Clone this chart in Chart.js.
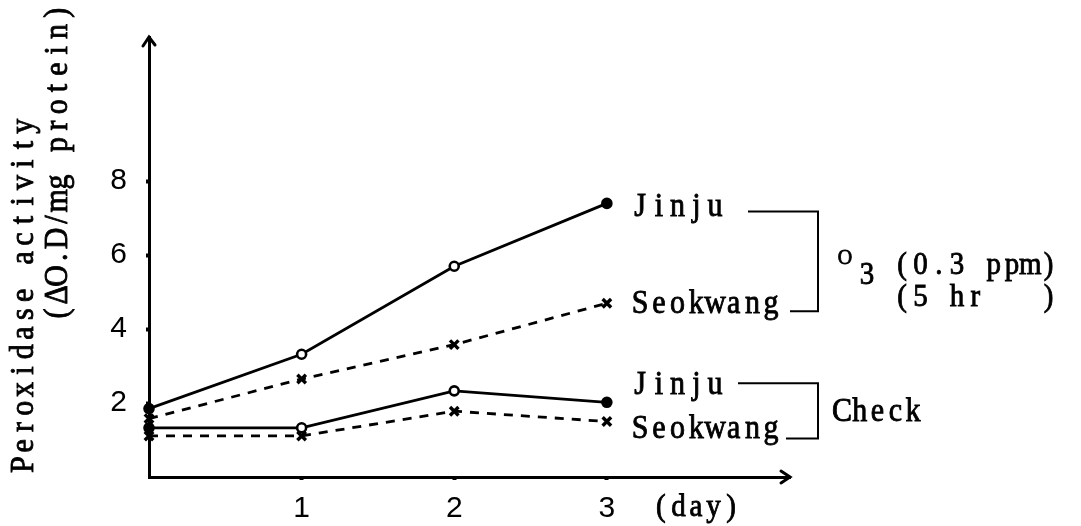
<!DOCTYPE html>
<html>
<head>
<meta charset="utf-8">
<script src="https://cdn.jsdelivr.net/npm/chart.js@4/dist/chart.umd.min.js"></script>
<style>
  html, body { margin: 0; padding: 0; background: #fff; }
  canvas { display: block; }
</style>
</head>
<body>
<canvas id="c" width="1081" height="526"></canvas>
<script>
// ---- data ----
const days = [0, 1, 2, 3];
const o3Jinju = [1.85, 3.32, 5.70, 7.40];
const o3Seokwang = [1.58, 2.65, 3.58, 4.70];
const checkJinju = [1.33, 1.33, 2.33, 2.02];
const checkSeokwang = [1.11, 1.11, 1.78, 1.50];
const yTicks = [2, 4, 6, 8];
const xTicks = [1, 2, 3];
const yTitleLines = ['Peroxidase activity', '(\u0394O.D/mg protein)'];
const xUnit = '(day)';
const varietyLabels = ['Jinju', 'Seokwang'];
const groupLabels = ['Check'];
const o3Lines = ['(0.3 ppm)', '(5 hr   )'];

const SERIF = '"Liberation Serif", "DejaVu Serif", serif';
const SANS = '"Liberation Sans", Arial, sans-serif';

function pts(arr) { return days.map((d, i) => ({ x: d, y: arr[i] })); }

function solidSet(arr) {
  return {
    data: pts(arr), borderColor: '#000', borderWidth: 2.8, clip: false,
    pointStyle: 'circle', pointRadius: 4.5, pointBorderWidth: 2.6,
    pointBorderColor: '#000',
    pointBackgroundColor: ['#000', '#fff', '#fff', '#000']
  };
}
function dashedSet(arr) {
  return {
    data: pts(arr), borderColor: '#000', borderWidth: 2.8, borderDash: [9, 8], clip: false,
    pointStyle: 'crossRot', pointRadius: 6, pointBorderWidth: 3.4,
    pointBorderColor: '#000', pointBackgroundColor: '#000'
  };
}

// typewriter-like text: each character centred in a fixed-pitch cell
function tw(ctx, s, x, y, opt) {
  opt = opt || {};
  const pitch = opt.pitch || 18.7;
  ctx.save();
  ctx.translate(x, y);
  if (opt.rot) ctx.rotate(opt.rot);
  ctx.font = (opt.size || 30) + 'px ' + SERIF;
  ctx.textAlign = 'center';
  ctx.textBaseline = opt.base || 'middle';
  ctx.fillStyle = '#000';
  ctx.strokeStyle = '#000';
  ctx.lineWidth = 0.8;
  for (let i = 0; i < s.length; i++) {
    const ch = s[i];
    if (ch === ' ') continue;
    ctx.save();
    ctx.translate(i * pitch + pitch / 2, 0);
    ctx.scale(1, opt.sy || 1.1);
    ctx.fillText(ch, 0, 0);
    ctx.strokeText(ch, 0, 0);
    ctx.restore();
  }
  ctx.restore();
}

const decor = {
  id: 'decor',
  afterDraw(chart) {
    const ctx = chart.ctx;
    const a = chart.chartArea;
    const xs = chart.scales.x, ys = chart.scales.y;
    ctx.save();
    ctx.strokeStyle = '#000';
    ctx.lineWidth = 3;
    ctx.lineCap = 'round';
    // arrow heads
    ctx.beginPath();
    ctx.moveTo(a.left - 6, a.top + 9); ctx.lineTo(a.left, a.top); ctx.lineTo(a.left + 6, a.top + 8);
    ctx.moveTo(a.right - 9, a.bottom - 6); ctx.lineTo(a.right, a.bottom); ctx.lineTo(a.right - 9, a.bottom + 6);
    ctx.stroke();

    // y axis title (two rotated lines)
    tw(ctx, yTitleLines[0], 33, 474, { rot: -Math.PI / 2, base: 'alphabetic', pitch: 18.8 });
    tw(ctx, yTitleLines[1], 67, 323, { rot: -Math.PI / 2, base: 'alphabetic', pitch: 18.8 });

    // x unit
    tw(ctx, xUnit, 652, 508, { size: 29, pitch: 17.6 });

    // series labels near the day-3 points
    const x3 = xs.getPixelForValue(3);
    const lx = x3 + 24;
    const yO3J = ys.getPixelForValue(o3Jinju[3]);
    const yO3S = ys.getPixelForValue(o3Seokwang[3]);
    const yCJ = ys.getPixelForValue(checkJinju[3]);
    const yCS = ys.getPixelForValue(checkSeokwang[3]);
    tw(ctx, varietyLabels[0], lx, yO3J + 4);
    tw(ctx, varietyLabels[1], lx, yO3S + 1);
    tw(ctx, varietyLabels[0], lx, yCJ - 17);
    tw(ctx, varietyLabels[1], lx, yCS + 8);

    // brackets
    ctx.lineWidth = 2;
    ctx.lineCap = 'butt';
    const bx = 818;
    ctx.beginPath();
    ctx.moveTo(748, yO3J + 8); ctx.lineTo(bx, yO3J + 8); ctx.lineTo(bx, yO3S + 8); ctx.lineTo(790, yO3S + 8);
    ctx.moveTo(738, yCJ - 19); ctx.lineTo(bx, yCJ - 19); ctx.lineTo(bx, yCS + 17); ctx.lineTo(786, yCS + 17);
    ctx.stroke();

    // group labels
    tw(ctx, groupLabels[0], 833, (yCJ - 19 + yCS + 17) / 2 + 1, { pitch: 17.8 });
    const mid = (yO3J + yO3S) / 2 + 17;
    tw(ctx, 'O', 838, mid - 12, { size: 20, pitch: 14 });
    tw(ctx, '3', 858, mid + 5, { size: 29, pitch: 18 });
    tw(ctx, o3Lines[0], 893, mid - 5, { size: 29, pitch: 18.3 });
    tw(ctx, o3Lines[1], 893, mid + 27, { size: 29, pitch: 18.3 });
    ctx.restore();
  }
};

new Chart(document.getElementById('c'), {
  type: 'line',
  data: {
    datasets: [
      solidSet(o3Jinju),
      dashedSet(o3Seokwang),
      solidSet(checkJinju),
      dashedSet(checkSeokwang)
    ]
  },
  options: {
    responsive: false,
    animation: false,
    devicePixelRatio: 1,
    layout: { padding: { top: 28, right: 291, left: 0, bottom: 0 } },
    plugins: { legend: { display: false }, tooltip: { enabled: false } },
    scales: {
      x: {
        type: 'linear', min: 0, max: 4.2,
        border: { display: true, color: '#000', width: 3 },
        grid: { display: true, drawOnChartArea: false, drawTicks: true, tickLength: 3, tickWidth: 4, tickColor: '#000', color: '#000' },
        ticks: { color: '#000', font: { family: SANS, size: 30 }, padding: 11 },
        afterBuildTicks(s) { s.ticks = xTicks.map(v => ({ value: v })); },
        afterFit(s) { s.height = 49; }
      },
      y: {
        type: 'linear', min: 0, max: 11.9,
        border: { display: true, color: '#000', width: 3 },
        grid: { display: true, drawOnChartArea: false, drawTicks: true, tickLength: 3, tickWidth: 4, tickColor: '#000', color: '#000' },
        ticks: { color: '#000', font: { family: SANS, size: 30 }, padding: 19 },
        afterBuildTicks(s) { s.ticks = yTicks.map(v => ({ value: v })); },
        afterFit(s) { s.width = 149; }
      }
    }
  },
  plugins: [decor]
});
</script>
</body>
</html>
